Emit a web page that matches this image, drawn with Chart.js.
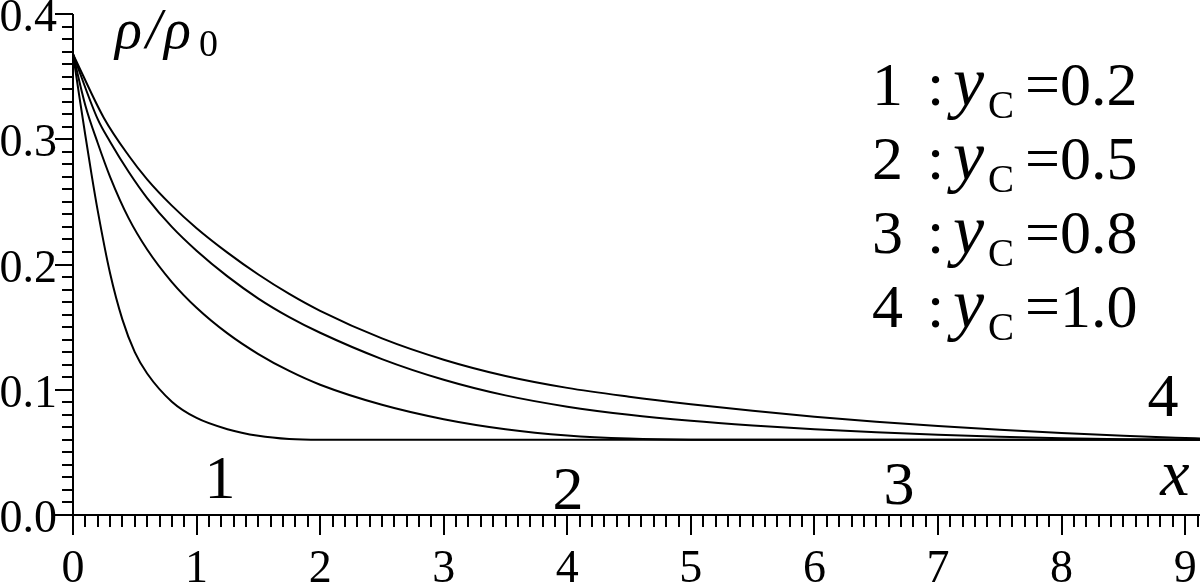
<!DOCTYPE html>
<html>
<head>
<meta charset="utf-8">
<script src="https://cdn.jsdelivr.net/npm/chart.js"></script>
<style>
  html, body { margin: 0; padding: 0; background: #fff; }
  #wrap { width: 1200px; height: 585px; }
</style>
</head>
<body>
<div id="wrap"><canvas id="rhoChart" width="1200" height="585"></canvas></div>
<script>
(function () {
    "use strict";

    // -----------------------------------------------------------
    //  Data (rho/rho0 against x)
    // -----------------------------------------------------------
    var xs1 = [0, 0.05, 0.1, 0.15, 0.2, 0.3, 0.4, 0.5, 0.6, 0.8, 1.0, 1.25, 1.5, 1.75, 2.0, 9.12];
    var ys1 = [0.368, 0.335, 0.303, 0.272, 0.243, 0.193, 0.156, 0.13, 0.113, 0.0905, 0.0775, 0.0685, 0.0632, 0.0606, 0.06, 0.06];

    var xs2 = [0, 0.1, 0.2, 0.3, 0.45, 0.6, 0.8, 1.0, 1.25, 1.5, 1.75, 2.0, 2.5, 3.0, 3.5, 4.0, 4.5, 5.0, 5.5, 9.12];
    var ys2 = [0.368, 0.327, 0.297, 0.27, 0.237, 0.212, 0.186, 0.1655, 0.145, 0.1285, 0.115, 0.104, 0.088, 0.0765, 0.0685, 0.0635, 0.061, 0.0601, 0.06, 0.06];

    var xs3 = [0, 0.2, 0.3, 0.45, 0.6, 0.8, 1.0, 1.25, 1.5, 1.75, 2.0, 2.5, 3.0, 3.5, 4.0, 4.5, 5.0, 5.5, 6.0, 6.5, 7.0, 7.5, 8.0, 8.5, 9.0, 9.12];
    var ys3 = [0.368, 0.316, 0.298, 0.274, 0.253, 0.23, 0.211, 0.1905, 0.1728, 0.158, 0.1455, 0.1245, 0.108, 0.0955, 0.0865, 0.08, 0.0752, 0.0715, 0.0685, 0.066, 0.064, 0.0625, 0.0613, 0.0605, 0.0601, 0.06];

    var xs4 = [0, 0.25, 0.45, 0.6, 0.8, 1.0, 1.25, 1.5, 1.75, 2.0, 2.5, 3.0, 3.5, 4.0, 4.5, 5.0, 5.5, 6.0, 6.5, 7.0, 7.5, 8.0, 8.5, 9.0, 9.12];
    var ys4 = [0.368, 0.317, 0.287, 0.268, 0.247, 0.229, 0.2095, 0.192, 0.1765, 0.163, 0.141, 0.124, 0.111, 0.1015, 0.0945, 0.0885, 0.0832, 0.0785, 0.0745, 0.071, 0.068, 0.0655, 0.0633, 0.0615, 0.0611];

    var curveNames = ["1", "2", "3", "4"];
    var yCValues = ["0.2", "0.5", "0.8", "1.0"];

    var xMin = 0, xMax = 9.12;
    var yMin = 0, yMax = 0.4;

    var SERIF = '"Liberation Serif", "Times New Roman", serif';

    function toPoints(xs, ys) {
        return xs.map(function (x, i) { return { x: x, y: ys[i] }; });
    }

    function lineSet(name, xs, ys) {
        return {
            label: name,
            data: toPoints(xs, ys),
            borderColor: "#000",
            borderWidth: 2,
            pointRadius: 0,
            fill: false,
            cubicInterpolationMode: "monotone"
        };
    }

    // -----------------------------------------------------------
    //  Axes, minor ticks and text labels
    // -----------------------------------------------------------
    var decorPlugin = {
        id: "decor",
        afterDraw: function (chart) {
            var ctx = chart.ctx;
            var xs = chart.scales.x, ys = chart.scales.y;
            var area = chart.chartArea;
            ctx.save();
            ctx.strokeStyle = "#000";
            ctx.lineWidth = 2;

            // axis lines
            ctx.beginPath();
            ctx.moveTo(area.left, ys.getPixelForValue(yMax));
            ctx.lineTo(area.left, area.bottom);
            ctx.lineTo(area.right, area.bottom);
            ctx.stroke();

            // x ticks every 0.1, major every 1
            ctx.beginPath();
            for (var i = 0; i <= 91; i++) {
                var px = Math.round(xs.getPixelForValue(i / 10));
                var len = (i % 10 === 0) ? 20 : 12;
                ctx.moveTo(px, area.bottom);
                ctx.lineTo(px, area.bottom + len);
            }
            // y ticks every 0.01, major every 0.1
            for (var j = 0; j <= 40; j++) {
                var py = Math.round(ys.getPixelForValue(j / 100));
                var l2 = (j % 10 === 0) ? 18 : 11;
                ctx.moveTo(area.left, py);
                ctx.lineTo(area.left - l2, py);
            }
            ctx.stroke();

            ctx.fillStyle = "#000";
            ctx.textBaseline = "alphabetic";
            ctx.textAlign = "left";

            // axis title rho/rho0
            ctx.font = "italic 56px " + SERIF;
            ctx.fillText("\u03C1", 115, 48);
            ctx.fillText("/", 146, 48);
            ctx.fillText("\u03C1", 164, 48);
            ctx.font = "38px " + SERIF;
            ctx.fillText("0", 199, 56);

            // legend text
            for (var k = 0; k < curveNames.length; k++) {
                var b = 105 + 74 * k;
                ctx.font = "62px " + SERIF;
                ctx.fillText(curveNames[k], 872, b);
                ctx.fillText(":", 927, b);
                ctx.font = "italic 70px " + SERIF;
                ctx.fillText("y", 953, b);
                ctx.font = "39px " + SERIF;
                ctx.fillText("C", 988, b + 13);
                ctx.font = "62px " + SERIF;
                ctx.fillText("=" + yCValues[k], 1025, b);
            }

            // curve numbers and x label
            ctx.textAlign = "center";
            ctx.font = "62px " + SERIF;
            ctx.fillText("1", 220, 498);
            ctx.fillText("2", 568, 509);
            ctx.fillText("3", 899, 504);
            ctx.fillText("4", 1163, 416);
            ctx.font = "italic 66px " + SERIF;
            ctx.fillText("x", 1175, 495);

            ctx.restore();
        }
    };

    var canvas = document.getElementById("rhoChart");
    new Chart(canvas, {
        type: "line",
        data: {
            datasets: [
                lineSet("1", xs1, ys1),
                lineSet("2", xs2, ys2),
                lineSet("3", xs3, ys3),
                lineSet("4", xs4, ys4)
            ]
        },
        options: {
            responsive: false,
            animation: false,
            devicePixelRatio: 1,
            layout: { padding: { top: 14, right: 0, bottom: 0, left: 0 } },
            plugins: {
                legend: { display: false },
                tooltip: { enabled: false }
            },
            scales: {
                x: {
                    type: "linear",
                    min: xMin,
                    max: xMax,
                    border: { display: false },
                    grid: { display: false, drawTicks: false },
                    ticks: {
                        stepSize: 1,
                        includeBounds: false,
                        color: "#000",
                        padding: 27,
                        maxRotation: 0,
                        autoSkip: false,
                        font: { family: SERIF, size: 46 },
                        callback: function (v) { return String(v); }
                    },
                    afterFit: function (s) { s.height = 70; s.paddingLeft = 0; s.paddingRight = 0; }
                },
                y: {
                    type: "linear",
                    min: yMin,
                    max: yMax,
                    border: { display: false },
                    grid: { display: false, drawTicks: false },
                    ticks: {
                        stepSize: 0.1,
                        color: "#000",
                        padding: 16,
                        labelOffset: 5,
                        font: { family: SERIF, size: 46 },
                        callback: function (v) { return v.toFixed(1); }
                    },
                    afterFit: function (s) { s.width = 73; s.paddingTop = 0; s.paddingBottom = 0; }
                }
            }
        },
        plugins: [decorPlugin]
    });
})();
</script>
</body>
</html>
